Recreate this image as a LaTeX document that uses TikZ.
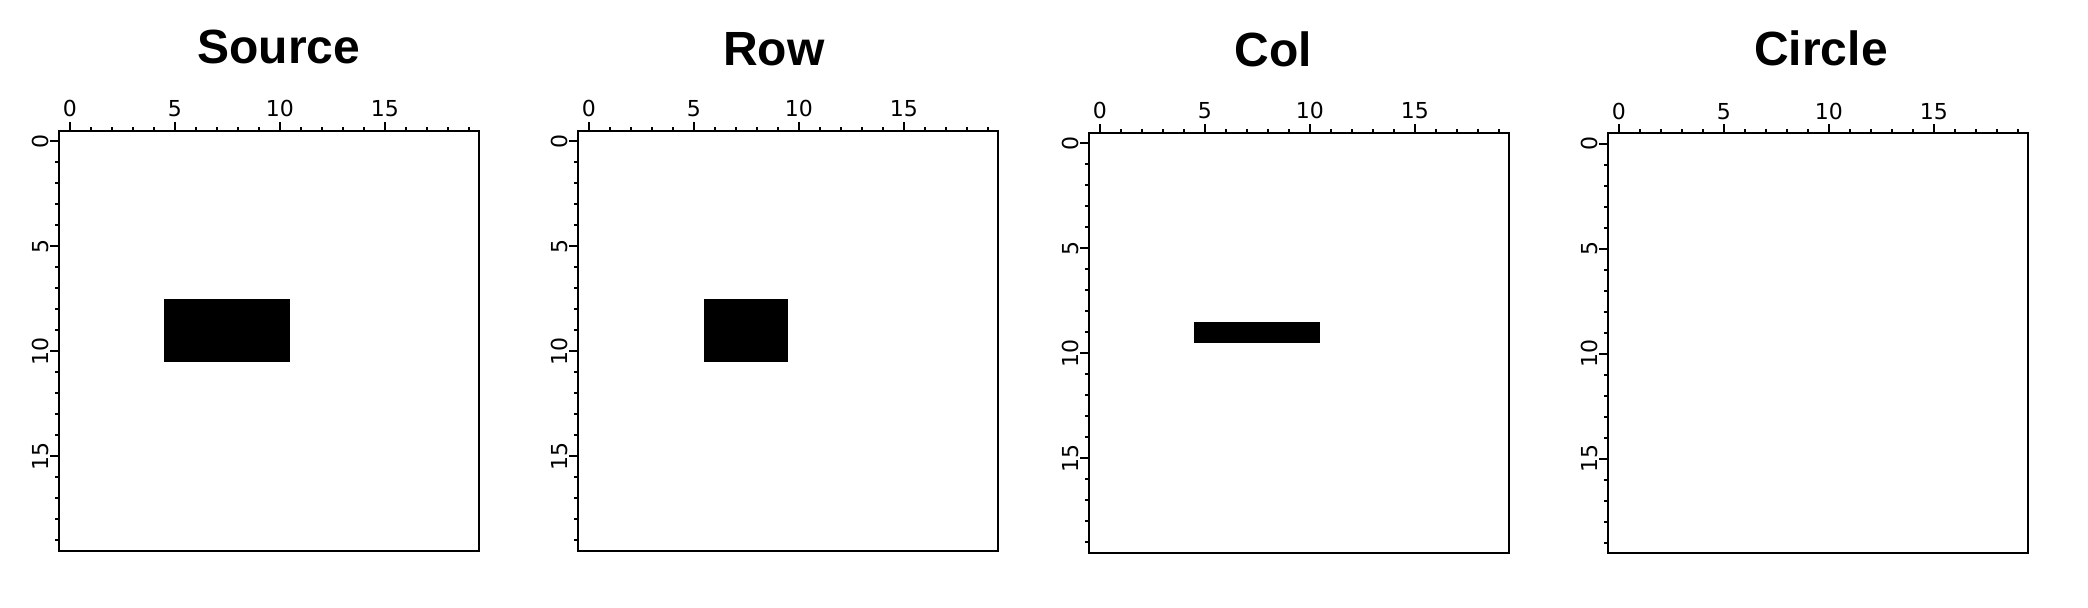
\documentclass[tikz,border=0pt]{standalone}
\usepackage{fontspec}
\setmainfont{Liberation Sans}
\newfontfamily\tickfont{DejaVu Sans}
\usepackage{tikz}
\usetikzlibrary{positioning,calc}

\begin{document}
\begin{tikzpicture}[x=0.5pt,y=-0.5pt,
    frame/.style={line width=1pt},
    tick/.style={line width=1pt},
    ticklabel/.style={font=\tickfont\fontsize{11}{13}\selectfont, inner sep=0pt, anchor=base},
    paneltitle/.style={font=\fontsize{24}{28}\selectfont\bfseries, inner sep=0pt, anchor=base},
    block/.style={fill=black}]
    \useasboundingbox (0,0) rectangle (2088,608);

    % Axes of the four panels
    \foreach \px/\py [count=\k] in {59.3/130.7, 578.3/130.7, 1089.3/132.7, 1608.3/133.3} {
        \begin{scope}[shift={(\px,\py)},x=10.5pt,y=-10.5pt]
            \coordinate (p\k) at (0,0);
            \draw [frame] (0,0) rectangle (20,20);
            \foreach \i in {0,...,19} {
                \draw [tick] ({\i+.5},0) -- ++(0pt,2pt);
                \draw [tick] (0,{\i+.5}) -- ++(-2pt,0pt);
            }
            \foreach \i in {0,5,10,15} {
                \draw [tick] ({\i+.5},0) -- ++(0pt,4.5pt);
                \draw [tick] (0,{\i+.5}) -- ++(-4.5pt,0pt);
                \node [ticklabel] (top\k-\i) at ([yshift=7pt]{\i+.5},0) {\i};
                \node [ticklabel, rotate=90] (left\k-\i) at ([xshift=-5.5pt]0,{\i+.5}) {\i};
            }
        \end{scope}
    }

    % Titles
    \node [paneltitle] (srcTitle) at (278.7,63.3) {Source};
    \node [paneltitle] (rowTitle) at (773.7,65.7) {Row};
    \node [paneltitle] (colTitle) at (1273,66.7) {Col};
    \node [paneltitle] (circTitle) at (1821,66) {Circle};

    % Source
    \begin{scope}[shift={(p1)},x=10.5pt,y=-10.5pt]
        \fill [block] (5,8) rectangle (11,11);
    \end{scope}

    % Row
    \begin{scope}[shift={(p2)},x=10.5pt,y=-10.5pt]
        \fill [block] (6,8) rectangle (10,11);
    \end{scope}

    % Col
    \begin{scope}[shift={(p3)},x=10.5pt,y=-10.5pt]
        \fill [block] (5,9) rectangle (11,10);
    \end{scope}
\end{tikzpicture}
\end{document}
